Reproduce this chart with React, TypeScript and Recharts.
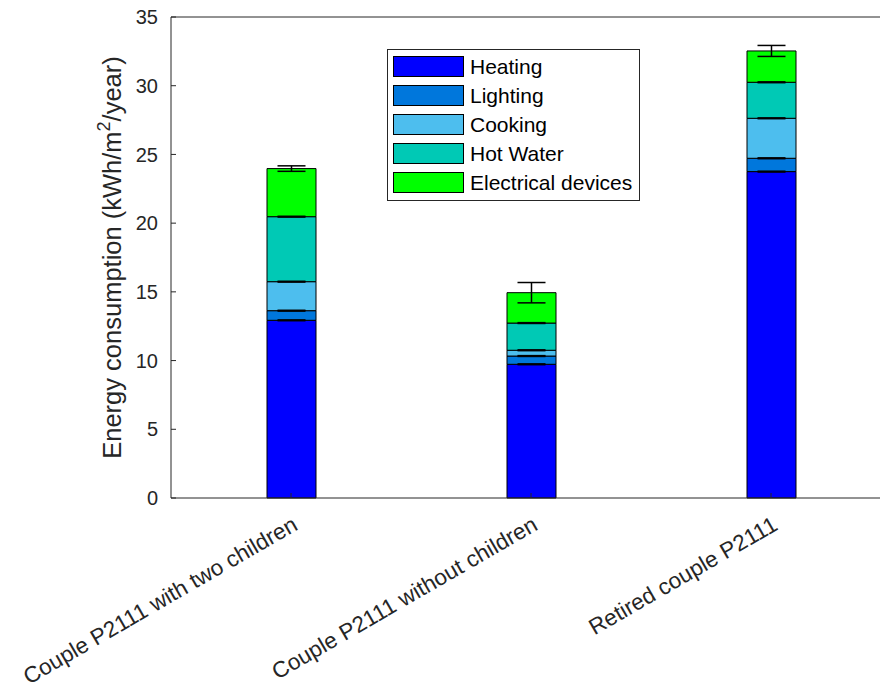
import {
  Bar,
  BarChart,
  ErrorBar,
  Legend,
  ReferenceLine,
  XAxis,
  YAxis,
} from "recharts";

const CATEGORIES = [
  "Couple P2111 with two children",
  "Couple P2111 without children",
  "Retired couple P2111",
];

const HEATING = [12.93, 9.73, 23.75];
const LIGHTING = [0.7, 0.6, 0.97];
const COOKING = [2.11, 0.42, 2.91];
const HOT_WATER = [4.73, 1.98, 2.62];
const ELECTRICAL = [3.5, 2.21, 2.28];

// error on top of each stacked segment
const HEATING_ERR = [0.03, 0.03, 0.03];
const LIGHTING_ERR = [0.03, 0.03, 0.03];
const COOKING_ERR = [0.03, 0.03, 0.03];
const HOT_WATER_ERR = [0.03, 0.03, 0.03];
const ELECTRICAL_ERR = [0.2, 0.74, 0.4];

const Y_TICKS = [0, 5, 10, 15, 20, 25, 30, 35];

const SERIES = [
  { key: "heating", name: "Heating", color: "#0000ff" },
  { key: "lighting", name: "Lighting", color: "#0077dc" },
  { key: "cooking", name: "Cooking", color: "#4dbeee" },
  { key: "hotWater", name: "Hot Water", color: "#00c9b5" },
  { key: "electrical", name: "Electrical devices", color: "#00ff00" },
] as const;

const FONT = "'Liberation Sans', Arial, Helvetica, sans-serif";
const AXIS = "#262626";

const data = CATEGORIES.map((name, i) => ({
  name,
  heating: HEATING[i],
  lighting: LIGHTING[i],
  cooking: COOKING[i],
  hotWater: HOT_WATER[i],
  electrical: ELECTRICAL[i],
  heatingErr: HEATING_ERR[i],
  lightingErr: LIGHTING_ERR[i],
  cookingErr: COOKING_ERR[i],
  hotWaterErr: HOT_WATER_ERR[i],
  electricalErr: ELECTRICAL_ERR[i],
}));

function XTick(props: any) {
  const { x, y, payload } = props;
  return (
    <text
      x={0}
      y={0}
      transform={`translate(${x + 8},${y}) rotate(-30)`}
      textAnchor="end"
      fontSize={22.5}
      fontFamily={FONT}
      fill={AXIS}
    >
      {payload.value}
    </text>
  );
}

function YLabel(props: any) {
  const vb = props.viewBox || { x: 0, y: 17, width: 171, height: 481 };
  const cx = 121;
  const cy = vb.y + vb.height / 2;
  return (
    <text
      x={cx}
      y={cy}
      transform={`rotate(-90, ${cx}, ${cy})`}
      textAnchor="middle"
      fontSize={25.5}
      fontFamily={FONT}
      fill={AXIS}
    >
      Energy consumption (kWh/m
      <tspan dy={-11} fontSize={18}>
        2
      </tspan>
      <tspan dy={11}>/year)</tspan>
    </text>
  );
}

function LegendBox() {
  return (
    <div
      style={{
        width: 246,
        height: 148,
        border: `1px solid ${AXIS}`,
        background: "#fff",
        boxSizing: "content-box",
        paddingTop: 2,
        paddingLeft: 5,
      }}
    >
      {SERIES.map((s) => (
        <div
          key={s.key}
          style={{ display: "flex", alignItems: "center", height: 29 }}
        >
          <div
            style={{
              width: 69,
              height: 19,
              background: s.color,
              border: "1px solid #000",
            }}
          />
          <span
            style={{
              marginLeft: 6,
              fontSize: 21,
              fontFamily: FONT,
              color: "#000",
              lineHeight: "21px",
              whiteSpace: "nowrap",
            }}
          >
            {s.name}
          </span>
        </div>
      ))}
    </div>
  );
}

export default function App() {
  return (
    <div
      style={{
        position: "absolute",
        left: 0,
        top: 0,
        width: 880,
        height: 693,
        overflow: "hidden",
        background: "#fff",
      }}
    >
      <BarChart
        width={891}
        height={693}
        data={data}
        margin={{ top: 17, right: 0, left: 0, bottom: 0 }}
        barSize={49}
      >
        <XAxis
          dataKey="name"
          height={195}
          tickSize={-5}
          tickMargin={36}
          tick={<XTick />}
          interval={0}
          axisLine={{ stroke: AXIS }}
          tickLine={{ stroke: AXIS }}
        />
        <YAxis
          width={171}
          domain={[0, 35]}
          ticks={Y_TICKS}
          tickSize={-5}
          tickMargin={18}
          interval={0}
          axisLine={{ stroke: AXIS }}
          tickLine={{ stroke: AXIS }}
          tick={{ fill: AXIS, fontSize: 20, fontFamily: FONT }}
          label={<YLabel />}
        />
        <ReferenceLine y={35} stroke={AXIS} strokeWidth={1} />
        <Legend
          layout="vertical"
          align="center"
          verticalAlign="middle"
          wrapperStyle={{ left: 387, top: 49, width: 253 }}
          content={() => <LegendBox />}
        />
        {SERIES.map((s) => (
          <Bar
            key={s.key}
            dataKey={s.key}
            name={s.name}
            stackId="a"
            fill={s.color}
            stroke="#000"
            strokeWidth={1}
            isAnimationActive={false}
          >
            <ErrorBar
              dataKey={`${s.key}Err`}
              width={14}
              stroke="#000"
              strokeWidth={1.5}
            />
          </Bar>
        ))}
      </BarChart>
    </div>
  );
}
